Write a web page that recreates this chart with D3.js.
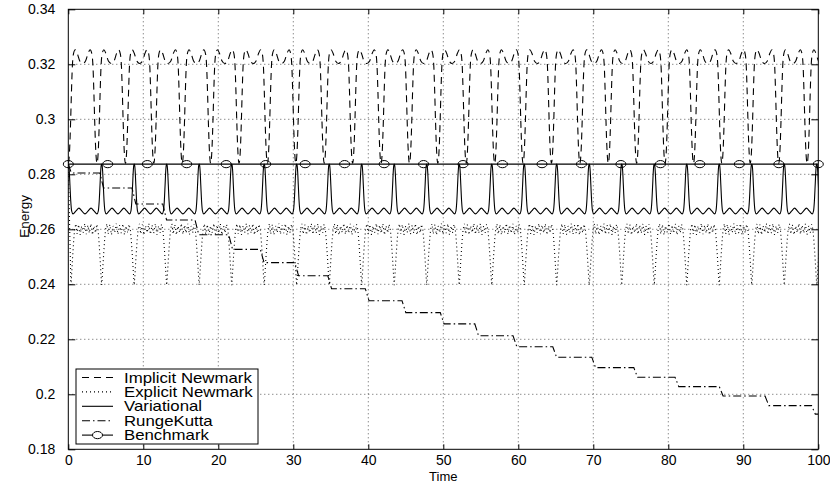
<!DOCTYPE html>
<html>
<head>
<meta charset="utf-8">
<script src="https://cdn.jsdelivr.net/npm/d3@7"></script>
<style>
  body { margin: 0; background: #fff; }
  svg { display: block; }
  text { font-family: "Liberation Sans", Arial, Helvetica, sans-serif; fill: #000; }
</style>
</head>
<body>
<svg id="chart"></svg>
<script>
// ---- data ----
const seriesNames = ["Implicit Newmark", "Explicit Newmark", "Variational", "RungeKutta", "Benchmark"];

const xTickValues = [0, 10, 20, 30, 40, 50, 60, 70, 80, 90, 100];
const xTickLabels = ["0", "10", "20", "30", "40", "50", "60", "70", "80", "90", "100"];
const yTickValues = [0.18, 0.2, 0.22, 0.24, 0.26, 0.28, 0.3, 0.32, 0.34];
const yTickLabels = ["0.18", "0.2", "0.22", "0.24", "0.26", "0.28", "0.3", "0.32", "0.34"];

// benchmark (exact energy) + marker times
const benchmarkEnergy = 0.2837;
const benchmarkMarkerTimes = [0, 5.26, 10.53, 15.79, 21.05, 26.32, 31.58, 36.84, 42.11, 47.37,
  52.63, 57.89, 63.16, 68.42, 73.68, 78.95, 84.21, 89.47, 94.74, 100];

// variational: times of the peaks, and the shape of one period (phase -> energy)
const variationalPeaks = [0, 4.45, 8.79, 13.12, 17.45, 21.79, 26.12, 30.45, 34.79, 39.12, 43.46,
  47.79, 52.12, 56.46, 60.79, 65.12, 69.46, 73.79, 78.13, 82.46, 86.79, 91.13, 95.46, 99.8, 104.1];
const variationalPhase = [0, 0.015, 0.03, 0.05, 0.075, 0.1, 0.14, 0.23, 0.32, 0.41, 0.5, 0.59, 0.68, 0.77,
  0.86, 0.9, 0.925, 0.95, 0.97, 0.985];
const variationalShape = [0.2837, 0.2832, 0.2810, 0.2760, 0.2700, 0.2667, 0.2656, 0.2667, 0.2677, 0.2666,
  0.2656, 0.2666, 0.2677, 0.2667, 0.2656, 0.2667, 0.2700, 0.2760, 0.2810, 0.2832];

// explicit newmark: dips, and one period shape
const explicitDips = [0.35, 4.45, 8.79, 13.12, 17.45, 21.79, 26.12, 30.45, 34.79, 39.12, 43.46,
  47.79, 52.12, 56.46, 60.79, 65.12, 69.46, 73.79, 78.13, 82.46, 86.79, 91.13, 95.46, 99.8, 104.1];
const explicitPhase = [0, 0.02, 0.05, 0.09, 0.12, 0.16, 0.2, 0.25, 0.3, 0.35, 0.4, 0.45, 0.5, 0.55, 0.6,
  0.65, 0.7, 0.75, 0.8, 0.84, 0.88, 0.91, 0.95, 0.98];
const explicitShape = [0.2397, 0.2430, 0.2490, 0.2560, 0.2600, 0.2620, 0.2583, 0.2617, 0.2580, 0.2612,
  0.2588, 0.2621, 0.2582, 0.2615, 0.2586, 0.2620, 0.2580, 0.2612, 0.2587, 0.2618, 0.2600, 0.2560, 0.2490, 0.2430];

// implicit newmark: dips, and one period shape
const implicitDips = [0, 3.83, 7.62, 11.40, 15.19, 18.98, 22.77, 26.55, 30.34, 34.13, 37.91, 41.70,
  45.49, 49.27, 53.06, 56.85, 60.64, 64.42, 68.21, 72.00, 75.78, 79.57, 83.36, 87.14, 90.93, 94.72, 98.51, 102.3];
const implicitPhase = [0, 0.025, 0.05, 0.08, 0.11, 0.14, 0.18, 0.24, 0.31, 0.4, 0.5, 0.6, 0.69, 0.76,
  0.82, 0.86, 0.89, 0.92, 0.95, 0.975];
const implicitShape = [0.2840, 0.2855, 0.2900, 0.2990, 0.3100, 0.3190, 0.3238, 0.3253, 0.3240, 0.3212,
  0.3203, 0.3212, 0.3240, 0.3253, 0.3238, 0.3190, 0.3100, 0.2990, 0.2900, 0.2855];

// runge kutta: staircase (drop times + levels)
const rkDrops = [4.2, 8.5, 12.6, 16.9, 21.4, 25.6, 30.2, 34.6, 39.6, 44.5, 49.6, 54.2, 59.3, 64.6,
  69.8, 75.4, 80.9, 86.8, 92.9, 99.1];
const rkLevels = [0.2805, 0.2750, 0.2692, 0.2634, 0.2580, 0.2527, 0.2479, 0.2431, 0.2384, 0.2340,
  0.2297, 0.2256, 0.2213, 0.2173, 0.2135, 0.2097, 0.2062, 0.2028, 0.1994, 0.1959, 0.1928];

// ---- build point lists ----
function periodic(events, phase, shape) {
  const pts = [];
  for (let i = 0; i < events.length - 1; i++) {
    const t0 = events[i], t1 = events[i + 1];
    phase.forEach((p, j) => pts.push([t0 + p * (t1 - t0), shape[j]]));
  }
  pts.push([events[events.length - 1], shape[0]]);
  return pts;
}

const implicitData = periodic(implicitDips, implicitPhase, implicitShape);
const explicitData = [[0, benchmarkEnergy]].concat(periodic(explicitDips, explicitPhase, explicitShape));
const variationalData = periodic(variationalPeaks, variationalPhase, variationalShape);
const rkData = [[0, benchmarkEnergy], [0.4, rkLevels[0]]];
rkDrops.forEach((d, i) => {
  rkData.push([d, rkLevels[i]]);
  rkData.push([d + 0.5, rkLevels[i + 1]]);
});
rkData.push([100, rkLevels[rkLevels.length - 1]]);
const benchData = [[0, benchmarkEnergy], [100, benchmarkEnergy]];

// ---- chart ----
const width = 830, height = 483;
const margin = { top: 9.3, right: 11.7, bottom: 33.7, left: 68.3 };

const svg = d3.select("#chart").attr("width", width).attr("height", height);

const x = d3.scaleLinear().domain([0, 100]).range([margin.left, width - margin.right]);
const y = d3.scaleLinear().domain([0.18, 0.34]).range([height - margin.bottom, margin.top]);

svg.append("defs").append("clipPath").attr("id", "plot-clip")
  .append("rect")
  .attr("x", x(0)).attr("y", y(0.34))
  .attr("width", x(100) - x(0)).attr("height", y(0.18) - y(0.34));

// grid
const grid = svg.append("g").attr("class", "grid")
  .attr("stroke", "#333").attr("stroke-width", 0.8).attr("stroke-dasharray", "1,3");
grid.selectAll(".gx").data(xTickValues.slice(1, -1)).join("line")
  .attr("x1", d => x(d)).attr("x2", d => x(d))
  .attr("y1", y(0.34)).attr("y2", y(0.18));
grid.selectAll(".gy").data(yTickValues.slice(1, -1)).join("line")
  .attr("x1", x(0)).attr("x2", x(100))
  .attr("y1", d => y(d)).attr("y2", d => y(d));

// lines
const line = d3.line().x(d => x(d[0])).y(d => y(d[1]));
const plot = svg.append("g").attr("clip-path", "url(#plot-clip)")
  .attr("fill", "none").attr("stroke", "#000").attr("stroke-width", 1.1);

plot.append("path").datum(implicitData)
  .attr("d", line.curve(d3.curveMonotoneX))
  .attr("stroke-dasharray", "7,5");
plot.append("path").datum(explicitData)
  .attr("d", line.curve(d3.curveLinear))
  .attr("stroke-dasharray", "1,3");
plot.append("path").datum(variationalData)
  .attr("d", line.curve(d3.curveMonotoneX));
plot.append("path").datum(rkData)
  .attr("d", line.curve(d3.curveLinear))
  .attr("stroke-dasharray", "8,3,1.5,3");
plot.append("path").datum(benchData)
  .attr("d", line.curve(d3.curveLinear));

svg.append("g").selectAll("ellipse").data(benchmarkMarkerTimes).join("ellipse")
  .attr("cx", d => x(d)).attr("cy", y(benchmarkEnergy))
  .attr("rx", 5).attr("ry", 3.6)
  .attr("fill", "none").attr("stroke", "#000").attr("stroke-width", 1);

// axes
svg.append("g")
  .attr("transform", `translate(0,${y(0.18)})`)
  .call(d3.axisBottom(x).tickValues(xTickValues).tickFormat((d, i) => xTickLabels[i])
    .tickSizeInner(-5).tickSizeOuter(0).tickPadding(6));
svg.append("g")
  .attr("transform", `translate(0,${y(0.34)})`)
  .call(d3.axisTop(x).tickValues(xTickValues).tickFormat("").tickSizeInner(-5).tickSizeOuter(0));
svg.append("g")
  .attr("transform", `translate(${x(0)},0)`)
  .call(d3.axisLeft(y).tickValues(yTickValues).tickFormat((d, i) => yTickLabels[i])
    .tickSizeInner(-7).tickSizeOuter(0).tickPadding(13));
svg.append("g")
  .attr("transform", `translate(${x(100)},0)`)
  .call(d3.axisRight(y).tickValues(yTickValues).tickFormat("").tickSizeInner(-7).tickSizeOuter(0));

svg.selectAll(".domain").remove();
svg.selectAll(".tick line").attr("stroke", "#000");
svg.selectAll(".tick text").style("font-size", "14px")
  .style("font-family", '"Liberation Sans", Arial, sans-serif');

svg.append("rect")
  .attr("x", x(0)).attr("y", y(0.34))
  .attr("width", x(100) - x(0)).attr("height", y(0.18) - y(0.34))
  .attr("fill", "none").attr("stroke", "#000").attr("stroke-width", 1);

// axis titles
svg.append("text")
  .attr("x", (x(0) + x(100)) / 2).attr("y", 481)
  .attr("text-anchor", "middle").style("font-size", "13px")
  .text("Time");
svg.append("text")
  .attr("transform", `translate(29,${(y(0.18) + y(0.34)) / 2 - 13}) rotate(-90)`)
  .attr("text-anchor", "middle").style("font-size", "13.5px")
  .text("Energy");

// legend
const legend = svg.append("g").attr("class", "legend");
legend.append("rect")
  .attr("x", 76).attr("y", 369).attr("width", 182).attr("height", 75)
  .attr("fill", "#fff").attr("stroke", "#000").attr("stroke-width", 1);

const legendStyles = [
  { dash: "7,5", marker: false },
  { dash: "1,3", marker: false },
  { dash: null, marker: false },
  { dash: "8,3,1.5,3", marker: false },
  { dash: null, marker: true }
];
const rows = legend.selectAll(".row").data(seriesNames).join("g")
  .attr("class", "row")
  .attr("transform", (d, i) => `translate(0,${377.5 + i * 14.4})`);
rows.append("line")
  .attr("x1", 82).attr("x2", 113).attr("y1", 0).attr("y2", 0)
  .attr("stroke", "#000").attr("stroke-width", 1.1)
  .attr("stroke-dasharray", (d, i) => legendStyles[i].dash);
rows.filter((d, i) => legendStyles[i].marker).append("ellipse")
  .attr("cx", 97.5).attr("cy", 0).attr("rx", 5).attr("ry", 3.6)
  .attr("fill", "#fff").attr("stroke", "#000");
rows.append("text")
  .attr("transform", "translate(124,5) scale(1.2,1)")
  .style("font-size", "14px")
  .text(d => d);
</script>
</body>
</html>
